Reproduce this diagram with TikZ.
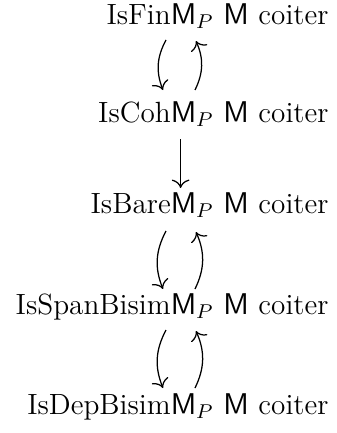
\documentclass[tikz,border=0pt]{standalone}
\usetikzlibrary{calc,arrows.meta}
\begin{document}
\begin{tikzpicture}[x=0.4pt,y=-0.4pt,
  stmt/.style={anchor=base east, inner sep=0pt, font=\fontsize{11.7}{14}\selectfont},
  impl/.style={-{To[scale=1.25]}, line width=0.5pt}]
\useasboundingbox (0,0) rectangle (337,433);
\coordinate (axis) at (180,0);
% the five statements, right-aligned
\node[stmt] (fin)  at (329,24)  {IsFin$\mathsf{M}_P$ $\mathsf{M}$ coiter};
\node[stmt] (coh)  at (329,122) {IsCoh$\mathsf{M}_P$ $\mathsf{M}$ coiter};
\node[stmt] (bare) at (329,213) {IsBare$\mathsf{M}_P$ $\mathsf{M}$ coiter};
\node[stmt] (span) at (329,314) {IsSpanBisim$\mathsf{M}_P$ $\mathsf{M}$ coiter};
\node[stmt] (dep)  at (329,414) {IsDepBisim$\mathsf{M}_P$ $\mathsf{M}$ coiter};
% implications
\draw[impl] ($(fin.base -| axis)+(-14,16)$) to[bend right=25] ($(coh.base -| axis)+(-17,-32)$);
\draw[impl] ($(coh.base -| axis)+(15,-32)$) to[bend right=25] ($(fin.base -| axis)+(16,17)$);
\draw[impl] ($(coh.base -| axis)+(0.6,17)$) -- ($(bare.base -| axis)+(0.6,-25)$);
\draw[impl] ($(bare.base -| axis)+(-14,18)$) to[bend right=25] ($(span.base -| axis)+(-17,-25)$);
\draw[impl] ($(span.base -| axis)+(15,-25)$) to[bend right=25] ($(bare.base -| axis)+(16,19)$);
\draw[impl] ($(span.base -| axis)+(-14,16)$) to[bend right=25] ($(dep.base -| axis)+(-17,-26)$);
\draw[impl] ($(dep.base -| axis)+(15,-26)$) to[bend right=25] ($(span.base -| axis)+(16,17)$);
\end{tikzpicture}
\end{document}
